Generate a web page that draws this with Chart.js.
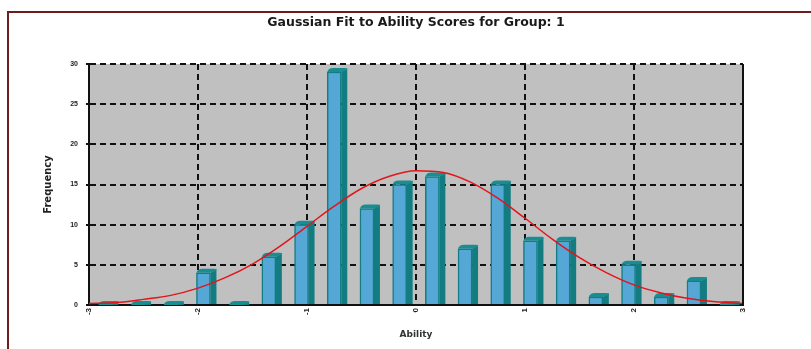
<!DOCTYPE html>
<html>
<head>
<meta charset="utf-8">
<script src="https://cdn.jsdelivr.net/npm/chart.js@4/dist/chart.umd.min.js"></script>
<style>
  html, body { margin: 0; padding: 0; background: #ffffff; }
  #wrap { width: 811px; height: 349px; position: relative; }
</style>
</head>
<body>
<div id="wrap"><canvas id="c" width="811" height="349"></canvas></div>
<script>
// ---- data ----
const titleText = 'Gaussian Fit to Ability Scores for Group: 1';
const xTitle = 'Ability';
const yTitle = 'Frequency';
const binCenters = [-2.85, -2.55, -2.25, -1.95, -1.65, -1.35, -1.05, -0.75, -0.45, -0.15,
                    0.15, 0.45, 0.75, 1.05, 1.35, 1.65, 1.95, 2.25, 2.55, 2.85];
const frequencies = [0, 0, 0, 4, 0, 6, 10, 29, 12, 15, 16, 7, 15, 8, 8, 1, 5, 1, 3, 0];
const curveX = [-3, -2.75, -2.5, -2.25, -2, -1.75, -1.5, -1.25, -1, -0.75, -0.5, -0.25, 0,
                0.25, 0.5, 0.75, 1, 1.25, 1.5, 1.75, 2, 2.25, 2.5, 2.75, 3];
const curveY = [0.2, 0.3, 0.7, 1.2, 2.1, 3.4, 5.1, 7.3, 9.8, 12.3, 14.5, 16.0, 16.7,
                16.5, 15.3, 13.3, 10.8, 8.2, 5.9, 4.0, 2.5, 1.5, 0.8, 0.4, 0.2];
const xMin = -3, xMax = 3, xStep = 1;
const yMin = 0, yMax = 30, yStep = 5;

const barPoints = binCenters.map((x, i) => ({ x: x, y: frequencies[i] }));
const curvePoints = curveX.map((x, i) => ({ x: x, y: curveY[i] }));

const FONT = "'Liberation Sans', Arial, sans-serif";
const WIDE = "'DejaVu Sans', Verdana, sans-serif";

const framePlugin = {
  id: 'frame',
  beforeDraw(chart) {
    const { ctx, chartArea: a } = chart;
    ctx.save();
    ctx.fillStyle = '#ffffff';
    ctx.fillRect(0, 0, chart.width, chart.height);
    ctx.strokeStyle = '#6e1d1d';
    ctx.lineWidth = 2;
    ctx.beginPath();
    ctx.moveTo(8, chart.height);
    ctx.lineTo(8, 12);
    ctx.lineTo(chart.width, 12);
    ctx.stroke();
    ctx.fillStyle = '#c0c0c0';
    ctx.fillRect(a.left, a.top, a.right - a.left, a.bottom - a.top);
    ctx.restore();
  },
  afterDraw(chart) {
    const { ctx, chartArea: a } = chart;
    ctx.save();
    ctx.strokeStyle = '#111111';
    ctx.lineWidth = 2;
    ctx.beginPath();
    ctx.moveTo(a.right, a.top);
    ctx.lineTo(a.right, a.bottom);
    ctx.stroke();
    ctx.restore();
  }
};

const bar3dPlugin = {
  id: 'bar3d',
  afterDatasetDraw(chart, args) {
    if (args.index !== 1) return;
    const meta = args.meta;
    const { ctx } = chart;
    const dx = 6, dy = 4;
    ctx.save();
    meta.data.forEach(bar => {
      const p = bar.getProps(['x', 'y', 'base', 'width'], true);
      const l = p.x - p.width / 2, r = p.x + p.width / 2;
      const top = Math.min(p.y, p.base), base = Math.max(p.y, p.base);
      ctx.fillStyle = '#137c80';
      ctx.beginPath();
      ctx.moveTo(r, top);
      ctx.lineTo(r + dx, top - dy);
      ctx.lineTo(r + dx, base);
      ctx.lineTo(r, base);
      ctx.closePath();
      ctx.fill();
      ctx.fillStyle = '#1a8d92';
      ctx.beginPath();
      ctx.moveTo(l, top);
      ctx.quadraticCurveTo(l + 1, top - dy, l + dx, top - dy);
      ctx.lineTo(r + dx - 2, top - dy);
      ctx.quadraticCurveTo(r + dx, top - dy, r + dx, top - dy + 2);
      ctx.lineTo(r, top);
      ctx.closePath();
      ctx.fill();
    });
    ctx.restore();
  }
};

new Chart(document.getElementById('c'), {
  type: 'bar',
  data: {
    datasets: [
      {
        type: 'line',
        label: 'Gaussian fit',
        data: curvePoints,
        borderColor: '#e3151a',
        borderWidth: 1.5,
        pointRadius: 0,
        fill: false,
        cubicInterpolationMode: 'monotone'
      },
      {
        type: 'bar',
        label: 'Frequency',
        data: barPoints,
        backgroundColor: '#55a7d6',
        borderColor: '#127e84',
        borderWidth: 1.5,
        barThickness: 14
      }
    ]
  },
  options: {
    responsive: false,
    animation: false,
    layout: { padding: { left: 0, right: 68, top: 0, bottom: 0 } },
    plugins: {
      legend: { display: false },
      tooltip: { enabled: false },
      title: {
        display: true,
        text: titleText,
        fullSize: false,
        color: '#1a1a1a',
        font: { family: WIDE, size: 12.5, weight: 'bold', lineHeight: 1.2 },
        padding: { top: 15.5, bottom: 33.5 }
      }
    },
    scales: {
      x: {
        type: 'linear',
        min: xMin, max: xMax,
        offset: false,
        z: 1,
        afterFit(scale) { scale.height = 44; },
        ticks: {
          stepSize: xStep,
          minRotation: 90, maxRotation: 90,
          padding: 1,
          color: '#222222',
          font: { family: FONT, size: 8, weight: 'bold' }
        },
        grid: {
          offset: false,
          color: '#111111',
          lineWidth: 2,
          tickLength: 2,
          tickColor: 'rgba(0,0,0,0)'
        },
        border: { display: true, color: '#111111', width: 2, dash: [6, 4] },
        title: {
          display: true,
          text: xTitle,
          color: '#333333',
          font: { family: WIDE, size: 9, weight: 'bold', lineHeight: 1.2 },
          padding: { top: 0, bottom: 9 }
        }
      },
      y: {
        min: yMin, max: yMax,
        z: 1,
        afterFit(scale) { scale.width = 89; },
        ticks: {
          stepSize: yStep,
          padding: 8,
          color: '#222222',
          font: { family: FONT, size: 7, weight: 'bold' }
        },
        grid: {
          color: '#111111',
          lineWidth: 2,
          tickLength: 3,
          tickColor: '#111111'
        },
        border: { display: true, color: '#111111', width: 2, dash: [6, 4] },
        title: {
          display: true,
          text: yTitle,
          color: '#222222',
          font: { family: WIDE, size: 10, weight: 'bold', lineHeight: 1.2 },
          padding: { top: 42, bottom: 0 }
        }
      }
    }
  },
  plugins: [framePlugin, bar3dPlugin]
});
</script>
</body>
</html>
